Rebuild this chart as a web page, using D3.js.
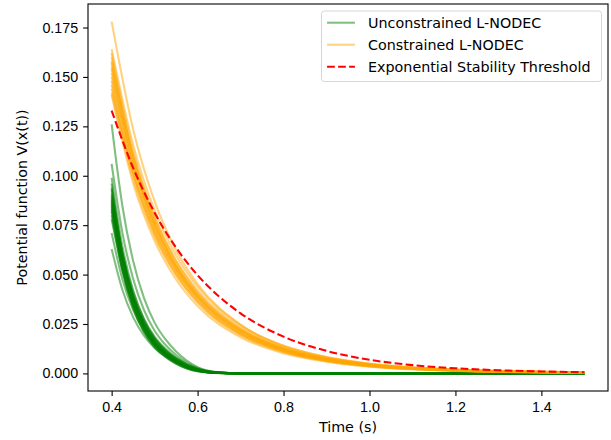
<!DOCTYPE html>
<html>
<head>
<meta charset="utf-8">
<script src="https://cdn.jsdelivr.net/npm/d3@7"></script>
<style>
  body { margin: 0; background: #fff; }
  svg { display: block; font-family: "DejaVu Sans", sans-serif; }
  .tick text { font-size: 14.3px; fill: #000; }
  .tick line { stroke: #000; stroke-width: 1.1; }
  .domain { display: none; }
</style>
</head>
<body>
<svg id="chart"></svg>
<script>
// sample times (s)
const timeGreen = [0.4, 0.425, 0.45, 0.475, 0.5, 0.525, 0.55, 0.6, 0.65, 0.7, 0.8, 1.0, 1.5];
const timeOrange = [0.4, 0.45, 0.5, 0.55, 0.6, 0.7, 0.8, 0.9, 1.0, 1.2, 1.5];
const timeRed = [0.4, 0.45, 0.5, 0.55, 0.6, 0.65, 0.7, 0.8, 0.9, 1.0, 1.1, 1.2, 1.3, 1.4, 1.5];

// Unconstrained L-NODEC runs, V(x(t))
const greenRuns = [
  [0.126, 0.0847, 0.0570, 0.0383, 0.0257, 0.0173, 0.0111, 0.0032, 0.0006, 0.0001, 0, 0, 0],
  [0.106, 0.0712, 0.0479, 0.0322, 0.0216, 0.0145, 0.0093, 0.0027, 0.0005, 0.0001, 0, 0, 0],
  [0.099, 0.0645, 0.0421, 0.0274, 0.0178, 0.0115, 0.0071, 0.0019, 0.0003, 0, 0, 0, 0],
  [0.096, 0.0609, 0.0386, 0.0245, 0.0155, 0.0098, 0.0058, 0.0013, 0.0002, 0, 0, 0, 0],
  [0.094, 0.0596, 0.0378, 0.0240, 0.0151, 0.0096, 0.0056, 0.0013, 0.0002, 0, 0, 0, 0],
  [0.093, 0.0606, 0.0395, 0.0258, 0.0167, 0.0108, 0.0067, 0.0017, 0.0003, 0, 0, 0, 0],
  [0.091, 0.0612, 0.0411, 0.0277, 0.0186, 0.0125, 0.0080, 0.0023, 0.0004, 0.0001, 0, 0, 0],
  [0.090, 0.0587, 0.0383, 0.0249, 0.0162, 0.0104, 0.0065, 0.0017, 0.0003, 0, 0, 0, 0],
  [0.089, 0.0580, 0.0378, 0.0247, 0.0160, 0.0103, 0.0064, 0.0017, 0.0002, 0, 0, 0, 0],
  [0.088, 0.0558, 0.0354, 0.0224, 0.0142, 0.0090, 0.0053, 0.0012, 0.0002, 0, 0, 0, 0],
  [0.087, 0.0585, 0.0393, 0.0264, 0.0177, 0.0119, 0.0077, 0.0022, 0.0004, 0.0001, 0, 0, 0],
  [0.086, 0.0561, 0.0366, 0.0238, 0.0155, 0.0100, 0.0062, 0.0016, 0.0002, 0, 0, 0, 0],
  [0.085, 0.0571, 0.0384, 0.0258, 0.0173, 0.0116, 0.0075, 0.0022, 0.0004, 0.0001, 0, 0, 0],
  [0.084, 0.0533, 0.0338, 0.0214, 0.0135, 0.0086, 0.0050, 0.0011, 0.0002, 0, 0, 0, 0],
  [0.083, 0.0541, 0.0353, 0.0230, 0.0149, 0.0096, 0.0060, 0.0015, 0.0002, 0, 0, 0, 0],
  [0.082, 0.0520, 0.0330, 0.0209, 0.0132, 0.0084, 0.0049, 0.0011, 0.0001, 0, 0, 0, 0],
  [0.080, 0.0522, 0.0340, 0.0222, 0.0144, 0.0093, 0.0058, 0.0015, 0.0002, 0, 0, 0, 0],
  [0.078, 0.0524, 0.0353, 0.0237, 0.0159, 0.0107, 0.0069, 0.0020, 0.0004, 0.0001, 0, 0, 0],
  [0.071, 0.0477, 0.0321, 0.0216, 0.0145, 0.0097, 0.0062, 0.0018, 0.0004, 0.0001, 0, 0, 0],
  [0.063, 0.0423, 0.0285, 0.0192, 0.0129, 0.0086, 0.0055, 0.0016, 0.0003, 0.0001, 0, 0, 0]
];

// Constrained L-NODEC runs, V(x(t))
const orangeRuns = [
  [0.178, 0.1235, 0.0870, 0.0623, 0.0452, 0.0247, 0.0140, 0.0082, 0.0048, 0.0018, 0.0005],
  [0.164, 0.1156, 0.0825, 0.0597, 0.0438, 0.0244, 0.0140, 0.0083, 0.0050, 0.0020, 0.0005],
  [0.162, 0.1124, 0.0792, 0.0567, 0.0411, 0.0225, 0.0127, 0.0074, 0.0044, 0.0017, 0.0004],
  [0.160, 0.1094, 0.0762, 0.0539, 0.0387, 0.0208, 0.0116, 0.0067, 0.0039, 0.0014, 0.0004],
  [0.158, 0.1097, 0.0773, 0.0553, 0.0401, 0.0220, 0.0124, 0.0072, 0.0043, 0.0016, 0.0004],
  [0.157, 0.1107, 0.0790, 0.0571, 0.0419, 0.0234, 0.0134, 0.0079, 0.0048, 0.0019, 0.0005],
  [0.155, 0.1076, 0.0758, 0.0543, 0.0394, 0.0215, 0.0122, 0.0071, 0.0042, 0.0016, 0.0004],
  [0.154, 0.1053, 0.0733, 0.0519, 0.0373, 0.0200, 0.0111, 0.0064, 0.0037, 0.0014, 0.0003],
  [0.152, 0.1055, 0.0743, 0.0532, 0.0386, 0.0211, 0.0120, 0.0070, 0.0041, 0.0016, 0.0004],
  [0.150, 0.1058, 0.0755, 0.0546, 0.0401, 0.0224, 0.0128, 0.0076, 0.0046, 0.0018, 0.0005],
  [0.148, 0.1012, 0.0704, 0.0499, 0.0358, 0.0192, 0.0107, 0.0062, 0.0036, 0.0013, 0.0003],
  [0.146, 0.1013, 0.0714, 0.0511, 0.0371, 0.0203, 0.0115, 0.0067, 0.0040, 0.0015, 0.0004],
  [0.144, 0.1015, 0.0724, 0.0524, 0.0384, 0.0215, 0.0123, 0.0073, 0.0044, 0.0017, 0.0004],
  [0.142, 0.0985, 0.0694, 0.0497, 0.0361, 0.0197, 0.0112, 0.0065, 0.0038, 0.0015, 0.0004],
  [0.141, 0.0964, 0.0671, 0.0475, 0.0341, 0.0183, 0.0102, 0.0059, 0.0034, 0.0013, 0.0003]
];

// exponential stability threshold
const redThreshold = [0.133, 0.104, 0.0813, 0.0636, 0.0497, 0.0389, 0.0304, 0.0186, 0.0114, 0.0069, 0.0042, 0.0026, 0.0016, 0.0010, 0.0006];

const xTicks = [0.4, 0.6, 0.8, 1.0, 1.2, 1.4];
const yTicks = [0, 0.025, 0.05, 0.075, 0.1, 0.125, 0.15, 0.175];
const legendLabels = ["Unconstrained L-NODEC", "Constrained L-NODEC", "Exponential Stability Threshold"];

const svg_width = 611, svg_height = 440;
const margin = { top: 4, right: 3, bottom: 49, left: 88 },
    width = svg_width - margin.left - margin.right,
    height = svg_height - margin.top - margin.bottom;

const root = d3.select("#chart")
    .attr("width", svg_width)
    .attr("height", svg_height);

const svg = root.append("g")
    .attr("transform", `translate(${margin.left},${margin.top})`);

const x = d3.scaleLinear().range([0, width]).domain([0.345, 1.555]);
const y = d3.scaleLinear().range([height, 0]).domain([-0.0089, 0.1869]);

svg.append("g")
    .attr("class", "x-axis")
    .attr("transform", `translate(0, ${height})`)
    .call(d3.axisBottom(x).tickValues(xTicks).tickFormat(d3.format(".1f"))
        .tickSize(4.9).tickPadding(6.3));

svg.append("g")
    .attr("class", "y-axis")
    .call(d3.axisLeft(y).tickValues(yTicks).tickFormat(d3.format(".3f"))
        .tickSize(4.9).tickPadding(4.9));

svg.append("text")
    .attr("x", width / 2)
    .attr("y", height + 41)
    .attr("text-anchor", "middle")
    .style("font-size", "14.3px")
    .text("Time (s)");

svg.append("text")
    .attr("x", -height / 2)
    .attr("y", -61)
    .attr("transform", "rotate(-90)")
    .attr("text-anchor", "middle")
    .style("font-size", "14.3px")
    .text("Potential function V(x(t))");

const line = d3.line()
    .x(d => x(d[0]))
    .y(d => y(d[1]))
    .curve(d3.curveMonotoneX);

const lw = 2.08, dash = "7.7,3.33";
const plot = svg.append("g");

greenRuns.forEach(run => {
    plot.append("path")
        .datum(d3.zip(timeGreen, run))
        .attr("fill", "none")
        .attr("stroke", "green")
        .attr("stroke-opacity", 0.5)
        .attr("stroke-width", lw)
        .attr("d", line);
});

orangeRuns.forEach(run => {
    plot.append("path")
        .datum(d3.zip(timeOrange, run))
        .attr("fill", "none")
        .attr("stroke", "orange")
        .attr("stroke-opacity", 0.5)
        .attr("stroke-width", lw)
        .attr("d", line);
});

plot.append("path")
    .datum(d3.zip(timeRed, redThreshold))
    .attr("fill", "none")
    .attr("stroke", "red")
    .attr("stroke-width", lw)
    .attr("stroke-dasharray", dash)
    .attr("d", line);

// frame
svg.append("rect")
    .attr("x", 0)
    .attr("y", 0)
    .attr("width", width)
    .attr("height", height)
    .attr("fill", "none")
    .attr("stroke", "#000")
    .attr("stroke-width", 1.1);

// legend
const legend = svg.append("g")
    .attr("transform", `translate(${width - 286.5},${7})`);

legend.append("rect")
    .attr("width", 280)
    .attr("height", 70.5)
    .attr("rx", 2.8)
    .attr("fill", "#fff")
    .attr("fill-opacity", 0.8)
    .attr("stroke", "#d6d6d6")
    .attr("stroke-width", 1);

const legendStyles = [
    { color: "green", opacity: 0.5, dash: null },
    { color: "orange", opacity: 0.5, dash: null },
    { color: "red", opacity: 1, dash: dash }
];

legendLabels.forEach((label, i) => {
    const cy = 11.7 + i * 22;
    legend.append("line")
        .attr("x1", 5.6)
        .attr("x2", 33.4)
        .attr("y1", cy)
        .attr("y2", cy)
        .attr("stroke", legendStyles[i].color)
        .attr("stroke-opacity", legendStyles[i].opacity)
        .attr("stroke-width", lw)
        .attr("stroke-dasharray", legendStyles[i].dash);
    legend.append("text")
        .attr("x", 46.5)
        .attr("y", cy)
        .attr("dy", "0.36em")
        .style("font-size", "14.3px")
        .text(label);
});
</script>
</body>
</html>
